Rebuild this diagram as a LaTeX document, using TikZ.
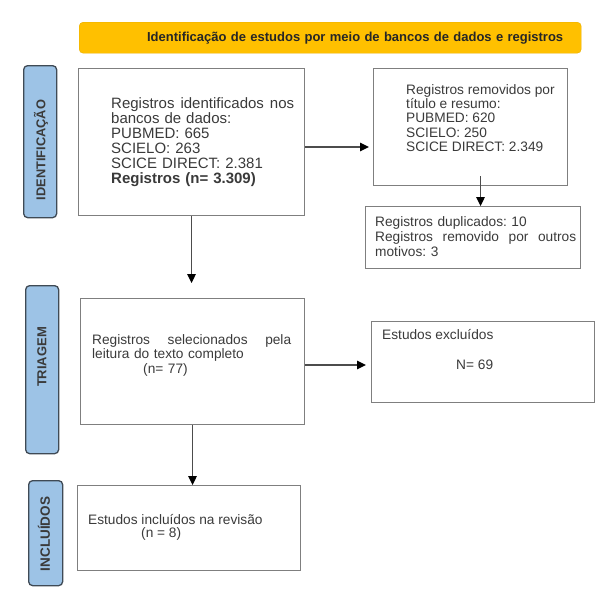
\documentclass[tikz,border=0pt]{standalone}
\usepackage{fontspec}
\setmainfont{Liberation Sans}
\usepackage{tikz}
\usetikzlibrary{arrows.meta, positioning, calc}

\definecolor{bannerfill}{HTML}{FFC000}
\definecolor{bannerline}{HTML}{E8AE00}
\definecolor{sidefill}{HTML}{9DC3E6}
\definecolor{sideline}{HTML}{3F4A55}
\definecolor{boxline}{HTML}{7F7F7F}
\definecolor{txtgray}{HTML}{3A3A3A}

\frenchspacing
\begin{document}
\begin{tikzpicture}[x=1pt, y=-1pt,
  box/.style={rectangle, draw=boxline, line width=1.1pt, anchor=north west, inner sep=0pt},
  side/.style={rectangle, rounded corners=4pt, draw=sideline, fill=sidefill, line width=1.3pt, anchor=north west, inner sep=0pt},
  sidetxt/.style={rotate=90, inner sep=0pt, text=txtgray},
  txt/.style={anchor=north west, inner sep=0pt, align=left, text=txtgray, font=\fontsize{13.7}{14.8}\selectfont},
  arr/.style={-{Triangle[length=9pt, width=8.5pt, color=black]}, line width=1.3pt, draw=black!70}
]
\useasboundingbox (0,0) rectangle (607,592);

% heading
\node (head) [rectangle, rounded corners=4pt, draw=bannerline, fill=bannerfill, anchor=north west,
  minimum height=31pt, inner xsep=18pt, inner ysep=0pt, text width=466pt, align=right,
  font=\bfseries\fontsize{13}{14}\selectfont, text=black!85] at (79,22)
  {Identificação de estudos por meio de bancos de dados e registros};

% stage labels
\node (idbox) [side, minimum width=33pt, minimum height=152pt] at (23,65) {};
\node (idtxt) [sidetxt, font=\bfseries\fontsize{12.8}{13}\selectfont] at (41,150) {IDENTIFICAÇÃO};
\node (tribox) [side, minimum width=33pt, minimum height=168pt] at (25,285) {};
\node (tritxt) [sidetxt, font=\bfseries\fontsize{13}{13}\selectfont] at (42,357) {TRIAGEM};
\node (incbox) [side, minimum width=34pt, minimum height=105pt] at (28,480) {};
\node (inctxt) [sidetxt, font=\bfseries\fontsize{13.5}{14}\selectfont] at (44,534) {INCLUÍDOS};

% boxes
\node (ident) [box, minimum width=226pt, minimum height=147pt] at (78,68) {};
\node (identtxt) [txt, text width=183pt, font=\fontsize{15}{15}\selectfont] at (111,97)
  {Registros\hfill identificados\hfill nos\\
   bancos de dados:\\
   PUBMED: 665\\
   SCIELO: 263\\
   SCICE DIRECT: 2.381\\
   \textbf{Registros (n= 3.309)}};

\node (removed) [box, minimum width=194pt, minimum height=117pt] at (373,68) {};
\node (removedtxt) [txt, font=\fontsize{13.7}{14.3}\selectfont] at (406,84)
  {Registros removidos por\\
   título e resumo:\\
   PUBMED: 620\\
   SCIELO: 250\\
   SCICE DIRECT: 2.349};

\node (dup) [box, minimum width=215pt, minimum height=62pt] at (365,206) {};
\node (duptxt) [txt, text width=201pt] at (375,216.5)
  {Registros duplicados: 10\\
   Registros\hfill removido\hfill por\hfill outros\\
   motivos: 3};

\node (select) [box, minimum width=224pt, minimum height=126pt] at (80,298) {};
\node (selecttxt) [txt, text width=199pt] at (92,334)
  {Registros\hfill selecionados\hfill pela\\
   leitura do texto completo\\
   \hspace*{51pt}(n= 77)};

\node (excl) [box, minimum width=223pt, minimum height=81pt] at (371,321) {};
\node (excltxt) [txt] at (382,329)
  {Estudos excluídos\\[15.2pt]
   \hspace*{74pt}N= 69};

\node (incl) [box, minimum width=223pt, minimum height=85pt] at (77,485) {};
\node (incltxt) [txt] at (88,514)
  {Estudos incluídos na revisão\\[-1.5pt]
   \hspace*{53pt}(n = 8)};

% connectors
\draw [arr, shorten >=4pt] (ident.east |- 0,147) -- (removed.west |- 0,147);
\draw [arr] ($(removed.south)+(10,-10)$) coordinate (r2) -- (r2 |- dup.north);
\draw [arr, shorten >=15pt] (ident.south) -- (ident.south |- select.north);
\draw [arr, shorten >=5pt] (select.east |- 0,365) -- (excl.west |- 0,365);
\draw [arr] (select.south) -- (select.south |- incl.north);
\end{tikzpicture}
\end{document}
